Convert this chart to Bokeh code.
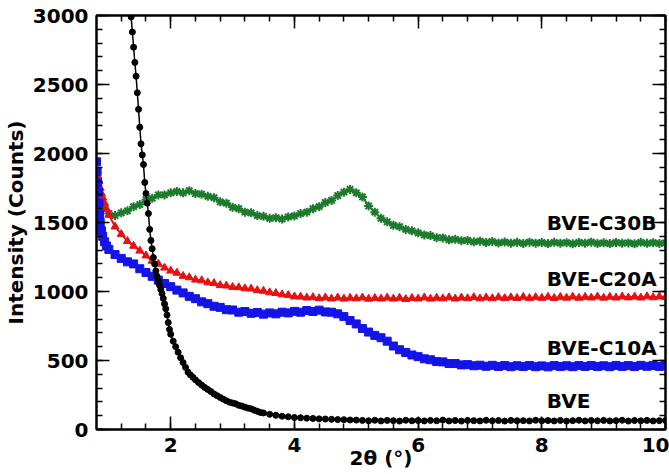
from bokeh.plotting import figure
from bokeh.models import LinearAxis, SingleIntervalTicker, Range1d
from bokeh.core.properties import value
from bokeh.embed import file_html
from bokeh.resources import INLINE

# ---- data: 2theta (deg) vs intensity (counts) ----
grid_from_08 = [round(0.8 + 0.1 * i, 1) for i in range(93)]   # 0.8 .. 10.0
grid_from_10 = [round(1.0 + 0.1 * i, 1) for i in range(91)]   # 1.0 .. 10.0

c30b_x = grid_from_08
c30b_y = [1690, 1600, 1565, 1550, 1570, 1585, 1615, 1630, 1665, 1675,
          1700, 1700, 1715, 1725, 1715, 1730, 1710, 1705, 1690, 1680,
          1650, 1640, 1610, 1600, 1575, 1570, 1550, 1545, 1530, 1535,
          1525, 1540, 1548, 1565, 1575, 1600, 1615, 1645, 1660, 1695,
          1720, 1740, 1715, 1685, 1620, 1575, 1530, 1505, 1480, 1470,
          1450, 1440, 1425, 1410, 1405, 1390, 1388, 1375, 1378, 1368,
          1370, 1360, 1365, 1355, 1362, 1352, 1358, 1350, 1356, 1348,
          1357, 1350, 1355, 1347, 1356, 1350, 1354, 1346, 1355, 1350,
          1357, 1348, 1353, 1347, 1355, 1350, 1352, 1346, 1356, 1349,
          1354, 1348, 1352]

c20a_x = [0.80, 0.82, 0.84, 0.86, 0.88, 0.90, 0.93, 0.96] + grid_from_10
c20a_y = [1880, 1840, 1800, 1750, 1710, 1680, 1640, 1600,
          1555, 1470, 1415, 1365, 1330, 1295, 1260, 1222, 1200, 1172,
          1150, 1135, 1112, 1102, 1085, 1080, 1065, 1060, 1045, 1042,
          1032, 1030, 1022, 1020, 1008, 1004, 993, 988, 978, 974,
          963, 962, 955, 958, 950, 956, 948, 955, 947, 953,
          949, 956, 946, 952, 948, 955, 947, 953, 945, 952,
          948, 956, 947, 954, 949, 957, 948, 955, 950, 958,
          949, 956, 950, 958, 951, 957, 952, 960, 951, 958,
          953, 961, 952, 960, 954, 962, 953, 960, 955, 963,
          954, 961, 955, 963, 956, 962, 955, 964, 957, 963,
          958]

c10a_x = [0.80, 0.81, 0.82, 0.83, 0.84, 0.85, 0.86, 0.88, 0.90, 0.93, 0.96] + grid_from_10
c10a_y = [1940, 1870, 1790, 1720, 1640, 1560, 1500, 1440, 1400, 1360, 1330,
          1305, 1268, 1240, 1215, 1200, 1165, 1138, 1110, 1082, 1058,
          1035, 1010, 990, 965, 948, 925, 912, 893, 885, 868,
          866, 850, 855, 842, 848, 836, 845, 838, 850, 845,
          856, 850, 862, 855, 865, 852, 850, 838, 818, 790,
          765, 732, 706, 682, 665, 640, 605, 578, 558, 540,
          528, 512, 505, 492, 490, 478, 478, 468, 470, 462,
          466, 458, 465, 457, 463, 455, 462, 456, 464, 455,
          461, 454, 463, 456, 462, 455, 463, 457, 464, 456,
          462, 455, 464, 457, 463, 456, 465, 458, 464, 457,
          463]

bve_x = [1.30, 1.33, 1.36, 1.38, 1.40, 1.42, 1.44, 1.46, 1.48, 1.50,
         1.52, 1.54, 1.56, 1.58, 1.60, 1.62, 1.64, 1.66, 1.68, 1.70,
         1.72, 1.74, 1.76, 1.78, 1.80, 1.82, 1.84, 1.86, 1.88, 1.90,
         1.92, 1.94, 1.96, 1.98, 2.00, 2.04, 2.08, 2.12, 2.16, 2.20,
         2.24, 2.28, 2.32, 2.36, 2.40, 2.45, 2.50, 2.55, 2.60, 2.65,
         2.70, 2.75, 2.80, 2.85, 2.90, 2.95, 3.00, 3.05, 3.10, 3.15,
         3.20, 3.25, 3.30, 3.35, 3.40, 3.45, 3.50, 3.60, 3.70, 3.80,
         3.90, 4.00, 4.10, 4.20, 4.30, 4.40, 4.50, 4.60, 4.70, 4.80,
         4.90, 5.00] + [round(5.1 + 0.1 * i, 1) for i in range(50)]
bve_y = [3350, 3150, 2990, 2880, 2770, 2660, 2560, 2440, 2320, 2190,
         2070, 1990, 1920, 1790, 1710, 1640, 1565, 1450, 1370, 1310,
         1246, 1200, 1150, 1110, 1075, 1045, 1015, 985, 950, 910,
         875, 830, 775, 725, 690, 640, 600, 560, 520, 485,
         450, 415, 395, 378, 360, 340, 322, 305, 290, 275,
         258, 245, 232, 220, 208, 198, 192, 186, 175, 170,
         162, 155, 150, 140, 132, 124, 120, 110, 103, 96,
         92, 87, 85, 82, 80, 77, 76, 74, 72, 71,
         69, 68,
         66, 63, 67, 62, 66, 64, 61, 67, 63, 65,
         62, 66, 63, 68, 62, 65, 61, 66, 64, 62,
         67, 63, 65, 61, 66, 63, 64, 62, 67, 63,
         65, 62, 66, 61, 64, 67, 62, 65, 63, 66,
         62, 64, 67, 61, 65, 63, 66, 62, 64, 65]

series_names = ["BVE-C30B", "BVE-C20A", "BVE-C10A", "BVE"]
label_x = [8.08, 8.08, 8.08, 8.08]
label_y = [1493, 1094, 594, 205]

FONT = "DejaVu Sans"
GREEN = "#1c7a2c"
RED = "#e81010"
BLUE = "#1414e6"
BLACK = "#000000"

p = figure(width=669, height=474, output_backend="svg", toolbar_location=None,
           x_range=Range1d(0.8, 10.0), y_range=Range1d(0, 3000),
           x_axis_location=None, y_axis_location=None,
           min_border_left=96, min_border_right=4,
           min_border_top=15, min_border_bottom=45)
p.grid.visible = False
p.outline_line_color = "black"
p.outline_line_width = 2
p.background_fill_color = "white"
p.border_fill_color = "white"


def make_axis(interval, show_labels, title=None):
    ax = LinearAxis(ticker=SingleIntervalTicker(interval=interval, num_minor_ticks=5))
    ax.axis_line_width = 2
    ax.major_tick_in = 13
    ax.major_tick_out = 0
    ax.minor_tick_in = 6
    ax.minor_tick_out = 0
    ax.major_tick_line_width = 1.5
    ax.minor_tick_line_width = 1.5
    if show_labels:
        ax.major_label_text_font = FONT
        ax.major_label_text_font_style = "bold"
        ax.major_label_text_font_size = "20px"
        ax.major_label_text_color = "black"
        ax.major_label_standoff = 8
    else:
        ax.major_label_text_color = None
        ax.major_label_text_alpha = 0
        ax.major_label_text_font_size = "1px"
        ax.major_label_standoff = 0
    if title is not None:
        ax.axis_label = title
        ax.axis_label_text_font = FONT
        ax.axis_label_text_font_style = "bold"
        ax.axis_label_text_font_size = "20px"
        ax.axis_label_text_color = "black"
    return ax


x_bottom = make_axis(2, True, "2θ (°)")
x_bottom.axis_label_standoff = -9
y_left = make_axis(500, True, "Intensity (Counts)")
y_left.axis_label_standoff = 2
p.add_layout(x_bottom, "below")
p.add_layout(y_left, "left")
p.add_layout(make_axis(2, False), "above")
p.add_layout(make_axis(500, False), "right")

# BVE-C30B
p.line(c30b_x, c30b_y, line_color=GREEN, line_width=2)
p.scatter(c30b_x, c30b_y, marker="asterisk", size=9, line_color=GREEN, line_width=2)
# BVE-C20A
p.line(c20a_x, c20a_y, line_color=RED, line_width=2)
p.scatter(c20a_x, c20a_y, marker="triangle", size=8, fill_color=RED, line_color=RED)
# BVE-C10A
p.line(c10a_x, c10a_y, line_color=BLUE, line_width=2)
p.scatter(c10a_x, c10a_y, marker="square", size=8, fill_color=BLUE, line_color=BLUE)
# BVE
p.line(bve_x, bve_y, line_color=BLACK, line_width=1.5)
p.scatter(bve_x, bve_y, marker="circle", size=6, fill_color=BLACK, line_color=BLACK)

p.text(x=label_x, y=label_y, text=series_names, text_font=value(FONT),
       text_font_style="bold", text_font_size="20px", text_color="black",
       text_align="left", text_baseline="middle")

open("out.html", "w").write(file_html(p, INLINE))
